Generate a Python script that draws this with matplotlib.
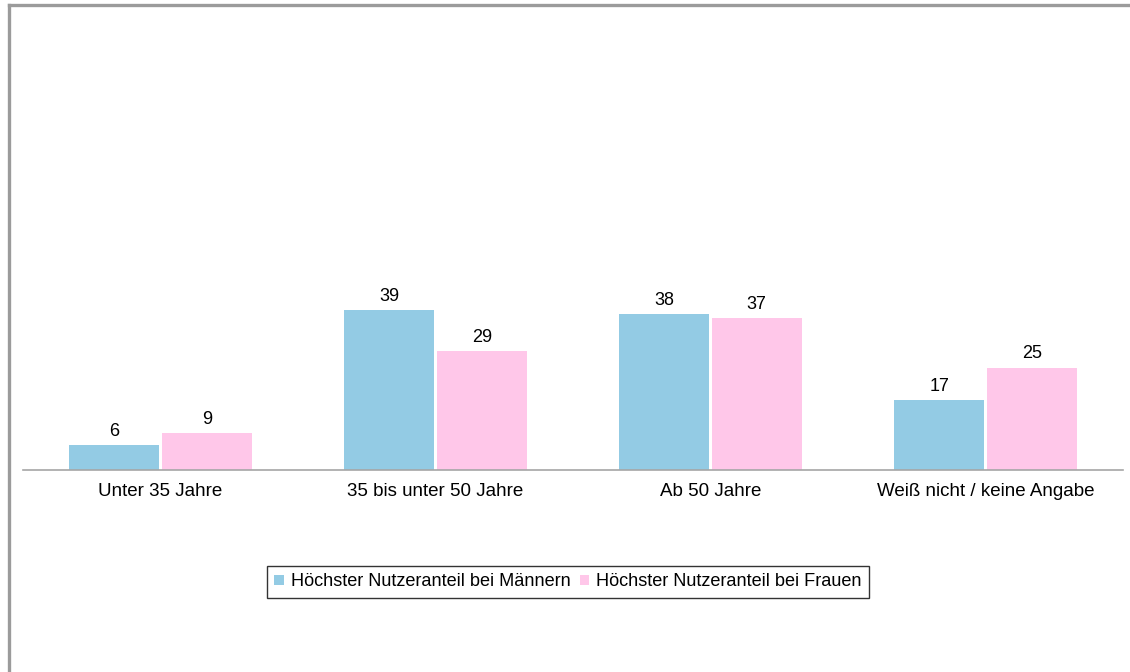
import matplotlib
matplotlib.use("Agg")
import matplotlib.pyplot as plt
from matplotlib.lines import Line2D
import numpy as np

plt.rcParams['font.family'] = ['Liberation Sans', 'DejaVu Sans']

categories = ["Unter 35 Jahre", "35 bis unter 50 Jahre", "Ab 50 Jahre", "Weiß nicht / keine Angabe"]
series_names = ["Höchster Nutzeranteil bei Männern", "Höchster Nutzeranteil bei Frauen"]
men = [6, 39, 38, 17]
women = [9, 29, 37, 25]
colors = ["#93CBE4", "#FFC7E9"]

W, H = 1130, 672
fig = plt.figure(figsize=(W / 100, H / 100), dpi=100)
ax = fig.add_axes([23 / W, (H - 470) / H, 1100 / W, 451 / H])

x = np.arange(len(categories))
bw = 0.328
gap = 0.004
b1 = ax.bar(x - bw / 2 - gap, men, bw, color=colors[0], label=series_names[0])
b2 = ax.bar(x + bw / 2 + gap, women, bw, color=colors[1], label=series_names[1])
for bars in (b1, b2):
    for r in bars:
        ax.annotate(f"{r.get_height():g}", (r.get_x() + r.get_width() / 2, r.get_height()),
                    xytext=(0, 4), textcoords="offset points", ha="center", va="bottom",
                    fontsize=13, color="#000000")

ax.set_xlim(-0.5, len(categories) - 0.5)
ax.set_ylim(0, 110)
ax.set_xticks(x)
ax.set_xticklabels(categories, fontsize=13.5)
ax.tick_params(axis='x', length=0, pad=9)
ax.set_yticks([])
for s in ("top", "right", "left"):
    ax.spines[s].set_visible(False)
ax.spines["bottom"].set_color("#A6A6A6")
ax.spines["bottom"].set_linewidth(1.2)

leg = fig.legend(handles=[b1, b2], labels=series_names, loc="center",
                 bbox_to_anchor=(568 / W, (H - 582) / H), ncol=2, fontsize=13.1,
                 frameon=True, fancybox=False, handlelength=0.5, handleheight=0.5,
                 handletextpad=0.4, columnspacing=0.5, borderpad=0.4)
leg.get_frame().set_edgecolor("#000000")
leg.get_frame().set_linewidth(1.0)

# outer gray border (top and left)
fig.add_artist(Line2D([9 / W, 1.0], [(H - 5) / H, (H - 5) / H], transform=fig.transFigure,
                      color="#9B9B9B", linewidth=2.4))
fig.add_artist(Line2D([9 / W, 9 / W], [0, (H - 5) / H], transform=fig.transFigure,
                      color="#9B9B9B", linewidth=2.4))

fig.savefig("out.png", dpi=100, facecolor="white")
